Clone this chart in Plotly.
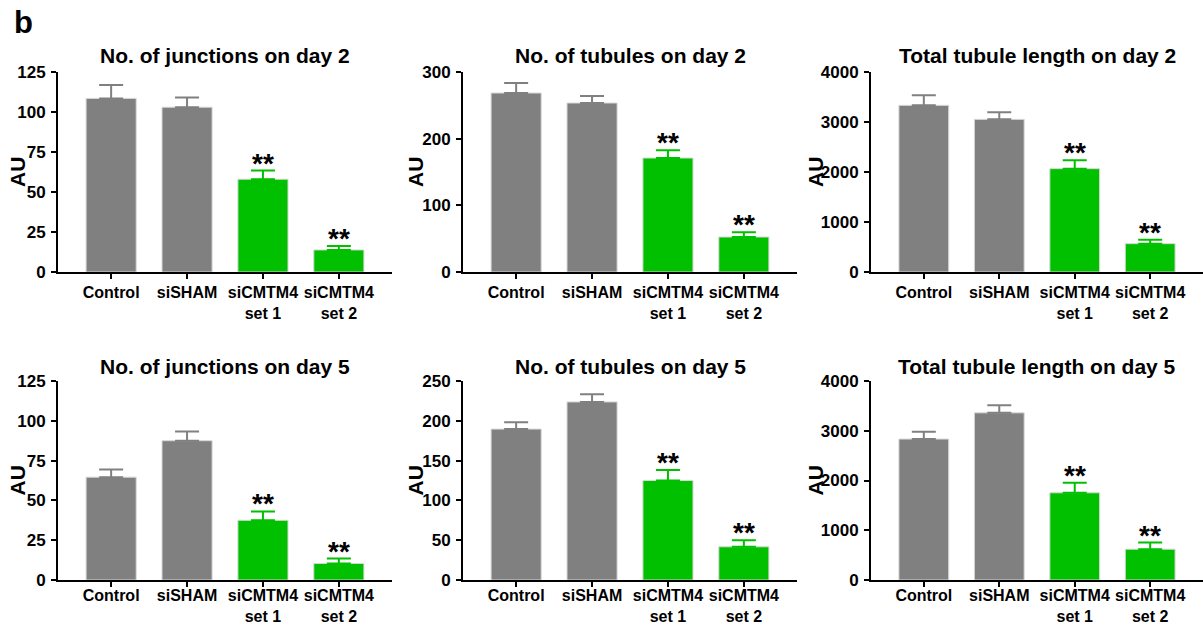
import plotly.graph_objects as go

categories = ["Control", "siSHAM", "siCMTM4<br>set 1", "siCMTM4<br>set 2"]
titles = [
    "No. of junctions on day 2", "No. of tubules on day 2", "Total tubule length on day 2",
    "No. of junctions on day 5", "No. of tubules on day 5", "Total tubule length on day 5",
]
junctions_d2 = [108.5, 103, 58, 13.8]
junctions_d2_err = [8.4, 6, 5.4, 2.5]
tubules_d2 = [268.5, 253.5, 171, 52.5]
tubules_d2_err = [15, 10.5, 11.5, 7]
length_d2 = [3333, 3053, 2067, 567]
length_d2_err = [200, 140, 166, 80]
junctions_d5 = [64.6, 87.5, 37.5, 10.4]
junctions_d5_err = [4.8, 5.8, 5.6, 3.1]
tubules_d5 = [189.6, 223.7, 125, 41.7]
tubules_d5_err = [8.7, 9.6, 13.3, 8.3]
length_d5 = [2833, 3360, 1753, 620]
length_d5_err = [147, 153, 200, 133]
y_max = [125, 300, 4000, 125, 250, 4000]
y_dtick = [25, 100, 1000, 25, 50, 1000]
significant = [False, False, True, True]

means = [junctions_d2, tubules_d2, length_d2, junctions_d5, tubules_d5, length_d5]
errs = [junctions_d2_err, tubules_d2_err, length_d2_err, junctions_d5_err, tubules_d5_err, length_d5_err]

GRAY = "#808080"
GREEN = "#00C000"
W, H = 1203, 627
FONT = "Liberation Sans, Arial, sans-serif"

col_px = [(58, 392), (463, 797), (871, 1203)]
row_px = [(72, 272), (381, 580)]
au_x = [17, 415, 815]

fig = go.Figure()
annotations = []
layout = {}
for i in range(6):
    r, c = divmod(i, 3)
    n = i + 1
    xa = "x" if n == 1 else f"x{n}"
    ya = "y" if n == 1 else f"y{n}"
    colors = [GREEN if s else GRAY for s in significant]
    fig.add_trace(go.Bar(
        x=categories, y=means[i], xaxis=xa, yaxis=ya,
        marker=dict(color=colors, line=dict(color="#d8d8d8", width=1)),
        width=0.66, showlegend=False,
    ))
    for grp, colr in ((False, GRAY), (True, GREEN)):
        idx = [k for k, s in enumerate(significant) if s == grp]
        fig.add_trace(go.Scatter(
            x=[categories[k] for k in idx], y=[means[i][k] for k in idx],
            xaxis=xa, yaxis=ya, mode="markers", marker=dict(size=0.1, color=colr, opacity=0),
            error_y=dict(type="data", symmetric=False, array=[errs[i][k] for k in idx],
                         arrayminus=[0] * len(idx), color=colr, thickness=2, width=12),
            showlegend=False, hoverinfo="skip",
        ))
    x0, x1 = col_px[c]
    y0, y1 = row_px[r]
    axis_common = dict(showline=True, linecolor="black", linewidth=2, ticks="outside",
                       ticklen=5, tickwidth=2, tickcolor="black", showgrid=False, zeroline=False,
                       automargin=False)
    layout[f"xaxis{n if n > 1 else ''}"] = dict(
        domain=[x0 / W, x1 / W], anchor=ya, range=[-0.7, 3.7], tickangle=0,
        ticklabelstandoff=0 if r == 0 else -5,
        tickfont=dict(family=FONT, size=16, color="black", weight="bold"), **axis_common)
    layout[f"yaxis{n if n > 1 else ''}"] = dict(
        domain=[1 - y1 / H, 1 - y0 / H], anchor=xa, range=[0, y_max[i]], dtick=y_dtick[i],
        ticklabelstandoff=2,
        tickfont=dict(family=FONT, size=17, color="black", weight="bold"), **axis_common)
    annotations.append(dict(
        text=f"<b>{titles[i]}</b>", x=(x0 + x1) / 2 / W, y=1 - (55 if r == 0 else 366) / H,
        xref="paper", yref="paper", showarrow=False, xanchor="center", yanchor="middle",
        font=dict(family=FONT, size=21, color="black")))
    annotations.append(dict(
        text="<b>AU</b>", x=au_x[c] / W, y=1 - (y0 + y1) / 2 / H, xref="paper", yref="paper",
        showarrow=False, textangle=-90, xanchor="center", yanchor="middle",
        font=dict(family=FONT, size=21, color="black")))
    for k, s in enumerate(significant):
        if s:
            annotations.append(dict(
                text="<b>**</b>", x=categories[k], y=means[i][k] + errs[i][k],
                xref=xa, yref=ya, showarrow=False, xanchor="center", yanchor="bottom",
                yshift=-10, font=dict(family=FONT, size=28, color="black")))

annotations.append(dict(text="<b>b</b>", x=12 / W, y=1 - 22 / H, xref="paper", yref="paper",
                        showarrow=False, xanchor="left", yanchor="middle",
                        font=dict(family=FONT, size=31, color="black")))

fig.update_layout(
    width=W, height=H, margin=dict(l=0, r=0, t=0, b=0),
    paper_bgcolor="white", plot_bgcolor="white", bargap=0.34,
    annotations=annotations, **layout,
)
fig.write_html("out.html", config={"displayModeBar": False},
               post_script="document.body.style.margin='0';document.body.style.overflow='hidden';")
